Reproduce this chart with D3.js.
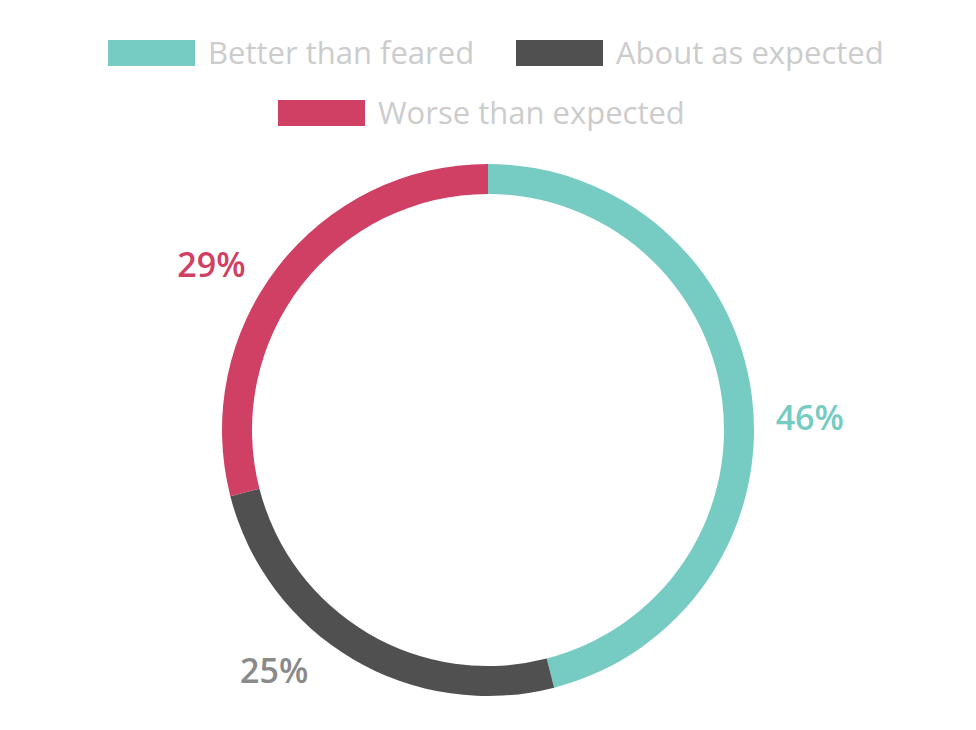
<!DOCTYPE html>
<html lang="en">
<head>
<meta charset="UTF-8">
<style>
  body, html { margin: 0; padding: 0; background: #fff; }
  svg { display: block; }
  text { font-family: "Open Sans", sans-serif; }
</style>
</head>
<body>
<svg width="976" height="730"></svg>
<script src="https://d3js.org/d3.v7.min.js"></script>
<script>
const categories = ["Better than feared", "About as expected", "Worse than expected"];
const values = [46, 25, 29];
const colors = ["#76cbc2", "#505050", "#d03f64"];
const labelColors = ["#76cbc2", "#8a8a8a", "#d03f64"];

const svg = d3.select("svg");
const cx = 488, cy = 430, outer = 266, inner = 236;

const pie = d3.pie().sort(null).value(d => d)(values);
const arc = d3.arc().innerRadius(inner).outerRadius(outer);

const g = svg.append("g").attr("transform", `translate(${cx},${cy})`);
g.selectAll("path").data(pie).enter().append("path")
  .attr("d", arc)
  .attr("fill", (d, i) => colors[i]);

// percentage labels outside the ring (slight angular nudge per slice, degrees)
const labelNudge = [5, 11, -7];
const labelR = 322;
g.selectAll(".lbl").data(pie).enter().append("text")
  .attr("class", "lbl")
  .attr("transform", (d, i) => {
    const a = (d.startAngle + d.endAngle) / 2 + labelNudge[i] * Math.PI / 180;
    return `translate(${labelR * Math.sin(a)},${-labelR * Math.cos(a)})`;
  })
  .attr("text-anchor", "middle")
  .attr("dy", "0.35em")
  .attr("font-size", 34)
  .attr("font-weight", 600)
  .attr("fill", (d, i) => labelColors[i])
  .text(d => d.data + "%");

// legend
const legendPos = [[108, 40], [516, 40], [278, 100]];
const lg = svg.selectAll(".leg").data(categories).enter().append("g")
  .attr("transform", (d, i) => `translate(${legendPos[i][0]},${legendPos[i][1]})`);
lg.append("rect").attr("width", 87).attr("height", 26).attr("fill", (d, i) => colors[i]);
lg.append("text").attr("x", 100).attr("y", 13).attr("dy", "0.35em")
  .attr("font-size", 31).attr("fill", "#cccccc").text(d => d);
</script>
</body>
</html>
